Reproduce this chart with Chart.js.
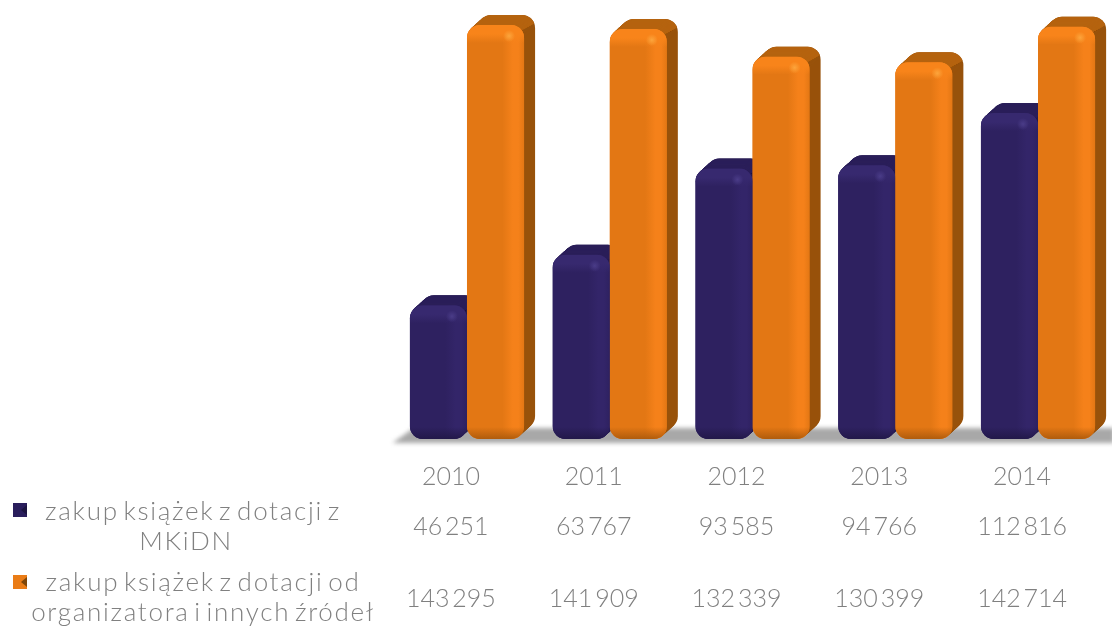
<!DOCTYPE html>
<html>
<head>
<meta charset="utf-8">
<title>Zakup książek</title>
<script src="https://cdn.jsdelivr.net/npm/chart.js@4"></script>
<style>
    html, body { margin: 0; padding: 0; background: #fff; }
    #chart { display: block; filter: blur(0.6px); }
</style>
</head>
<body>
<canvas id="chart" width="1112" height="626"></canvas>
<script>
const years = ['2010', '2011', '2012', '2013', '2014'];
const mkidnValues = [46251, 63767, 93585, 94766, 112816];
const organizerValues = [143295, 141909, 132339, 130399, 142714];
const mkidnLegend = ['zakup książek z dotacji z', 'MKiDN'];
const organizerLegend = ['zakup książek z dotacji od', 'organizatora i innych źródeł'];

const textFont = '300 25px Lato';
const legendFont = '300 26px Lato';
const textColor = '#808080';
const labelShift = -16;
const depthX = 11;
const depthY = 10;
const radius = 13;

const palette = [
    { front: '#2e2160', bright: '#332569', top: '#2a1e59', side: '#241a4f', rim: '#37296f', low: '#221849', spot: '#4a3c88', mark: '#2a1e5c', markDark: '#1c1440' },
    { front: '#e37714', bright: '#f5811a', top: '#b5630f', side: '#98520b', rim: '#f8841a', low: '#b05c0c', spot: '#fca53c', mark: '#ea7c16', markDark: '#7f4608' }
];

function formatValue(v) {
    return String(v).replace(/\B(?=(\d{3})+$)/g, ' ');
}

function barPath(ctx, x, y, w, h) {
    ctx.beginPath();
    ctx.roundRect(x, y, w, h, radius);
}

// depth of each bar: stacked copies behind the front face
function drawDepth(ctx, bar, colors) {
    const left = bar.x - bar.width / 2;
    const w = bar.width;
    const h = bar.base - bar.y;
    const steps = depthX;
    for (let k = steps; k >= 1; k--) {
        ctx.fillStyle = colors.side;
        barPath(ctx, left + k, bar.y - k * depthY / depthX, w, h);
        ctx.fill();
    }
    // top face is lighter than the right side
    ctx.save();
    ctx.beginPath();
    ctx.moveTo(left - 2, bar.y + 8);
    ctx.lineTo(left + w - 8, bar.y + 8);
    ctx.lineTo(left + w + depthX, bar.y - depthY + 8);
    ctx.lineTo(left + w + depthX, bar.y - depthY - 2);
    ctx.lineTo(left - 2, bar.y - depthY - 2);
    ctx.closePath();
    ctx.clip();
    for (let k = steps; k >= 1; k--) {
        ctx.fillStyle = colors.top;
        barPath(ctx, left + k, bar.y - k * depthY / depthX, w, h);
        ctx.fill();
    }
    ctx.restore();
}

// shading of the front face, drawn over the bar of the chart
function drawShading(ctx, bar, colors) {
    const left = bar.x - bar.width / 2;
    const w = bar.width;
    const h = bar.base - bar.y;
    ctx.save();
    barPath(ctx, left, bar.y, w, h);
    ctx.clip();

    const band = ctx.createLinearGradient(left, 0, left + w, 0);
    band.addColorStop(0, colors.front);
    band.addColorStop(0.62, colors.front);
    band.addColorStop(0.8, colors.bright);
    band.addColorStop(0.9, colors.bright);
    band.addColorStop(1, colors.front);
    ctx.fillStyle = band;
    ctx.fillRect(left, bar.y, w, h);

    const rimTop = ctx.createLinearGradient(0, bar.y, 0, bar.y + 18);
    rimTop.addColorStop(0, colors.rim);
    rimTop.addColorStop(0.5, colors.rim);
    rimTop.addColorStop(1, colors.rim + '00');
    ctx.fillStyle = rimTop;
    ctx.fillRect(left, bar.y, w, 18);

    const rimLow = ctx.createLinearGradient(0, bar.base - 12, 0, bar.base);
    rimLow.addColorStop(0, colors.low + '00');
    rimLow.addColorStop(1, colors.low);
    ctx.fillStyle = rimLow;
    ctx.fillRect(left, bar.base - 12, w, 12);

    // small shine near the top right corner
    const sx = left + w - 15;
    const sy = bar.y + 11;
    const shine = ctx.createRadialGradient(sx, sy, 0, sx, sy, 6);
    shine.addColorStop(0, colors.spot);
    shine.addColorStop(1, colors.spot + '00');
    ctx.fillStyle = shine;
    ctx.fillRect(sx - 6, sy - 6, 12, 12);
    ctx.restore();
}

const solidBars = {
    id: 'solidBars',
    beforeDatasetsDraw(chart) {
        const ctx = chart.ctx;
        const area = chart.chartArea;
        // grey floor under the bars
        ctx.save();
        ctx.filter = 'blur(2px)';
        ctx.fillStyle = '#a8a8a8';
        ctx.beginPath();
        ctx.moveTo(area.left - 3, area.bottom + 4);
        ctx.lineTo(area.left + 18, area.bottom - 11);
        ctx.lineTo(1114, area.bottom - 11);
        ctx.lineTo(1114, area.bottom + 4);
        ctx.closePath();
        ctx.fill();
        ctx.restore();

        // later bars cover the depth of the earlier ones
        years.forEach((year, i) => {
            chart.data.datasets.forEach((ds, d) => {
                drawDepth(ctx, chart.getDatasetMeta(d).data[i], palette[d]);
            });
        });
    },
    afterDatasetsDraw(chart) {
        const ctx = chart.ctx;
        chart.data.datasets.forEach((ds, d) => {
            chart.getDatasetMeta(d).data.forEach(bar => drawShading(ctx, bar, palette[d]));
        });
    },
    afterDraw(chart) {
        const ctx = chart.ctx;
        const xScale = chart.scales.x;
        ctx.save();
        ctx.font = textFont;
        ctx.fillStyle = textColor;
        ctx.textBaseline = 'middle';
        ctx.textAlign = 'center';

        // data table under the axis
        years.forEach((year, i) => {
            const x = xScale.getPixelForTick(i) + labelShift;
            ctx.wordSpacing = '-4px';
            ctx.fillText(formatValue(mkidnValues[i]), x, 527);
            ctx.fillText(formatValue(organizerValues[i]), x, 599);
        });

        // legend
        ctx.font = legendFont;
        ctx.wordSpacing = '-4px';
        ctx.letterSpacing = '1.7px';
        ctx.fillText(mkidnLegend[0], 193, 512);
        ctx.fillText(mkidnLegend[1], 186, 542);
        ctx.fillText(organizerLegend[0], 203, 583);
        ctx.fillText(organizerLegend[1], 203, 613);
        ctx.restore();

        drawMarker(ctx, 13, 503, palette[0]);
        drawMarker(ctx, 13, 575, palette[1]);
    }
};

// legend marker looks like a small pyramid, dark on its right side
function drawMarker(ctx, x, y, colors) {
    ctx.fillStyle = colors.mark;
    ctx.fillRect(x, y, 14, 14);
    ctx.fillStyle = colors.markDark;
    ctx.beginPath();
    ctx.moveTo(x + 14, y + 2);
    ctx.lineTo(x + 8, y + 7);
    ctx.lineTo(x + 14, y + 12);
    ctx.closePath();
    ctx.fill();
}

new Chart(document.getElementById('chart'), {
    type: 'bar',
    data: {
        labels: years,
        datasets: [
            { label: mkidnLegend.join(' '), data: mkidnValues, backgroundColor: palette[0].front, borderRadius: radius, borderSkipped: false },
            { label: organizerLegend.join(' '), data: organizerValues, backgroundColor: palette[1].front, borderRadius: radius, borderSkipped: false }
        ]
    },
    options: {
        responsive: false,
        animation: false,
        layout: { padding: { left: 395.6, right: 2.6, top: 5.6, bottom: 0 } },
        plugins: { legend: { display: false }, tooltip: { enabled: false } },
        datasets: { bar: { categoryPercentage: 0.8, barPercentage: 1 } },
        scales: {
            x: {
                grid: { display: false },
                border: { display: false },
                afterFit(scale) { scale.height = 187; },
                ticks: {
                    color: textColor,
                    font: { family: 'Lato', size: 25, weight: '300' },
                    labelOffset: labelShift,
                    padding: 15,
                    maxRotation: 0
                }
            },
            y: { display: false, min: 0, max: 150000 }
        }
    },
    plugins: [solidBars]
});
</script>
</body>
</html>
